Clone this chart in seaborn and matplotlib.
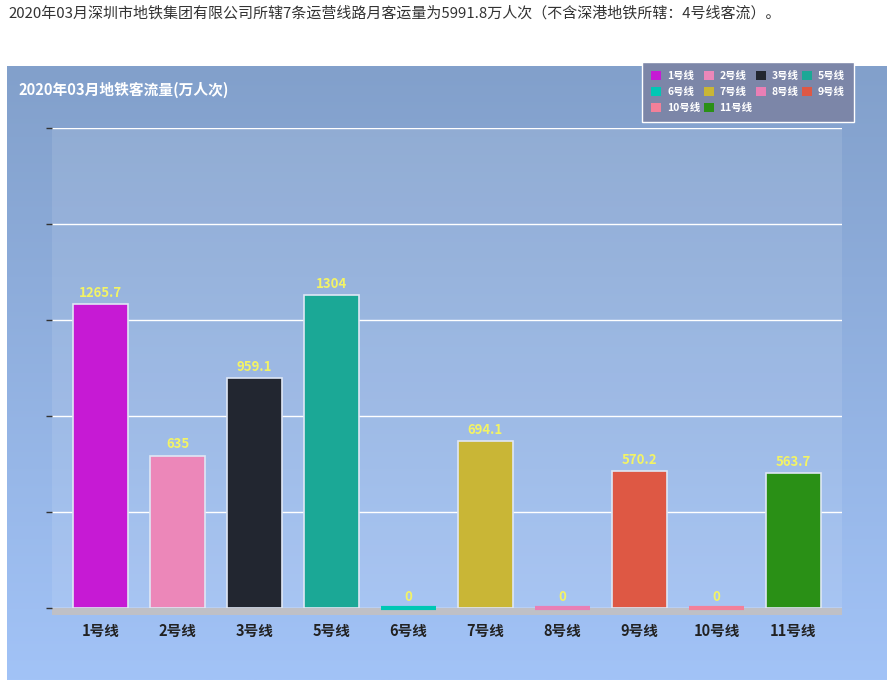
import numpy as np
import pandas as pd
import matplotlib
matplotlib.use('Agg')
import matplotlib.pyplot as plt
import seaborn as sns
from matplotlib.patches import Rectangle, Patch

# data
lines = ['1号线', '2号线', '3号线', '5号线', '6号线', '7号线', '8号线', '9号线', '10号线', '11号线']
flow = [1265.7, 635, 959.1, 1304, 0, 694.1, 0, 570.2, 0, 563.7]
colors = ['#c61ad4', '#ec87b9', '#222630', '#1ba896', '#00c7b4',
          '#c9b636', '#e97fb5', '#de5844', '#f28099', '#2a9016']

df = pd.DataFrame({'line': lines, 'flow': flow})
pal = dict(zip(lines, colors))

sns.set_theme(style='white')
plt.rcParams['font.family'] = ['Noto Sans CJK SC', 'DejaVu Sans']

W, H = 894, 685
fig = plt.figure(figsize=(W / 100, H / 100), dpi=100)
fig.patch.set_facecolor('white')

def fx(px):
    return px / W

def fy(py):
    return 1 - py / H

# page sentence above the chart
fig.text(fx(8), fy(13), '2020年03月深圳市地铁集团有限公司所辖7条运营线路月客运量为5991.8万人次（不含深港地铁所辖：4号线客流）。',
         fontsize=10.8, color='#333333', va='center', ha='left')

# panel with vertical gradient
bg = fig.add_axes([fx(7), fy(680), fx(887 - 7), (680 - 66) / H])
grad = np.linspace(0, 1, 256).reshape(-1, 1)
top = np.array([0x82, 0xa0, 0xcb]) / 255
bot = np.array([0xa2, 0xc3, 0xf7]) / 255
img = top + (bot - top) * grad[..., None]
bg.imshow(img, aspect='auto', extent=[0, 1, 0, 1], origin='upper')
bg.set_axis_off()

fig.text(fx(18), fy(90), '2020年03月地铁客流量(万人次)', fontsize=10.6, fontweight='bold',
         color='white', va='center', ha='left')

# plot area
ax = fig.add_axes([fx(52), fy(608), fx(842 - 52), (608 - 128) / H])
ax.set_zorder(1)
ax.patch.set_facecolor('white')
ax.patch.set_alpha(0.1)

sns.barplot(data=df, x='line', y='flow', hue='line', palette=pal, legend=False,
            width=0.71, edgecolor='#dfe7f5', linewidth=1.2, saturation=1, ax=ax)

# zero bars show up as a thin coloured line
for p in ax.patches:
    if p.get_height() == 0:
        p.set_edgecolor(p.get_facecolor())
        p.set_linewidth(3)
        p.set_clip_on(False)

ax.set_xlim(-0.63, 9.63)
ax.set_ylim(0, 2000)
ax.set_yticks(np.arange(0, 2001, 400))
ax.set_yticklabels([])
ax.yaxis.grid(True, color='white', linewidth=1)
ax.set_axisbelow(True)
for s in ax.spines.values():
    s.set_visible(False)
ax.tick_params(axis='y', left=True, length=4, width=1, color='#333333', pad=0)
ax.tick_params(axis='x', length=0, pad=11)
ax.set_xlabel('')
ax.set_ylabel('')
for t in ax.get_xticklabels():
    t.set_fontweight('bold')
    t.set_fontsize(10.5)
    t.set_color('#222222')

for c in ax.containers:
    ax.bar_label(c, labels=[f'{v:g}' for v in c.datavalues], padding=3,
                 color='#f3f365', fontsize=9.5, fontweight='bold')

# grey base band under the bars
fig.add_artist(Rectangle((fx(52), fy(615)), fx(842 - 52), 7 / H, zorder=0.5,
                         transform=fig.transFigure, facecolor='#bfc0c6', edgecolor='none'))

# legend box, filled row by row like the original
handles = [Patch(facecolor=c, edgecolor='none', label=l) for l, c in zip(lines, colors)]
ncol = 4
order = [i for col in range(ncol) for i in range(col, len(handles), ncol)]
leg = fig.legend(handles=[handles[i] for i in order], ncol=ncol, loc='upper left',
                 bbox_to_anchor=(fx(642), fy(62)), borderaxespad=0,
                 fontsize=7.5, frameon=True, fancybox=False, borderpad=0.9,
                 handlelength=0.95, handleheight=0.95, handletextpad=0.55,
                 columnspacing=0.35, labelspacing=0.55)
leg.set_zorder(5)
frame = leg.get_frame()
frame.set_facecolor('#7c86a8')
frame.set_edgecolor('white')
frame.set_alpha(1)
frame.set_linewidth(1)
for t in leg.get_texts():
    t.set_color('white')
    t.set_fontweight('bold')

fig.savefig('out.png', dpi=100)
